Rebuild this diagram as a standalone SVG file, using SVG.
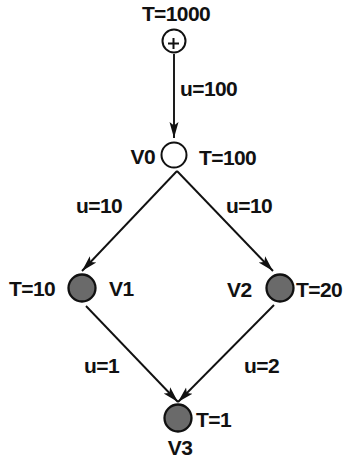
<svg xmlns="http://www.w3.org/2000/svg" width="351" height="464" viewBox="0 0 351 464">
<defs>
<marker id="arr" markerUnits="userSpaceOnUse" markerWidth="17" markerHeight="11" refX="16" refY="5.5" orient="auto">
<path d="M0,1 L16,5.5 L0,10 L3.5,5.5 z" fill="#111"/>
</marker>
<style>
text{font-family:"Liberation Sans",Arial,sans-serif;font-weight:bold;font-size:21px;letter-spacing:-0.6px;fill:#111}
.edge{stroke:#111;stroke-width:1.9;fill:none;marker-end:url(#arr)}
.filled{fill:#6a6a6a;stroke:#111;stroke-width:2.3}
.empty{fill:#fff;stroke:#111;stroke-width:2}
</style>
</defs>
<rect width="351" height="464" fill="#fff"/>
<g id="connectors">
<line class="edge" x1="174" y1="54" x2="174" y2="138"/>
<line class="edge" x1="177" y1="171" x2="82" y2="271"/>
<line class="edge" x1="177" y1="171" x2="273" y2="271"/>
<line class="edge" x1="86" y1="306" x2="178" y2="402"/>
<line class="edge" x1="274" y1="305" x2="178" y2="402"/>
<text x="180" y="96">u=100</text>
<text x="76" y="213">u=10</text>
<text x="226" y="213">u=10</text>
<text x="84" y="373">u=1</text>
<text x="244" y="373">u=2</text>
</g>
<g id="source">
<circle class="empty" cx="174" cy="41" r="11.5"/>
<path d="M168,43.5 H179 M173.5,38 V49" stroke="#111" stroke-width="2"/>
<text x="176" y="21" text-anchor="middle">T=1000</text>
</g>
<g id="V0">
<circle class="empty" cx="174" cy="155" r="12.5"/>
<text x="155" y="164" text-anchor="end">V0</text>
<text x="199" y="165">T=100</text>
</g>
<g id="V1">
<circle class="filled" cx="82" cy="288" r="13.5"/>
<text x="9" y="296">T=10</text>
<text x="109" y="296">V1</text>
</g>
<g id="V2">
<circle class="filled" cx="280" cy="288" r="13.5"/>
<text x="227" y="297">V2</text>
<text x="296" y="297">T=20</text>
</g>
<g id="V3">
<circle class="filled" cx="178" cy="418" r="13.5"/>
<text x="196" y="427">T=1</text>
<text x="180" y="455" text-anchor="middle">V3</text>
</g>
</svg>
